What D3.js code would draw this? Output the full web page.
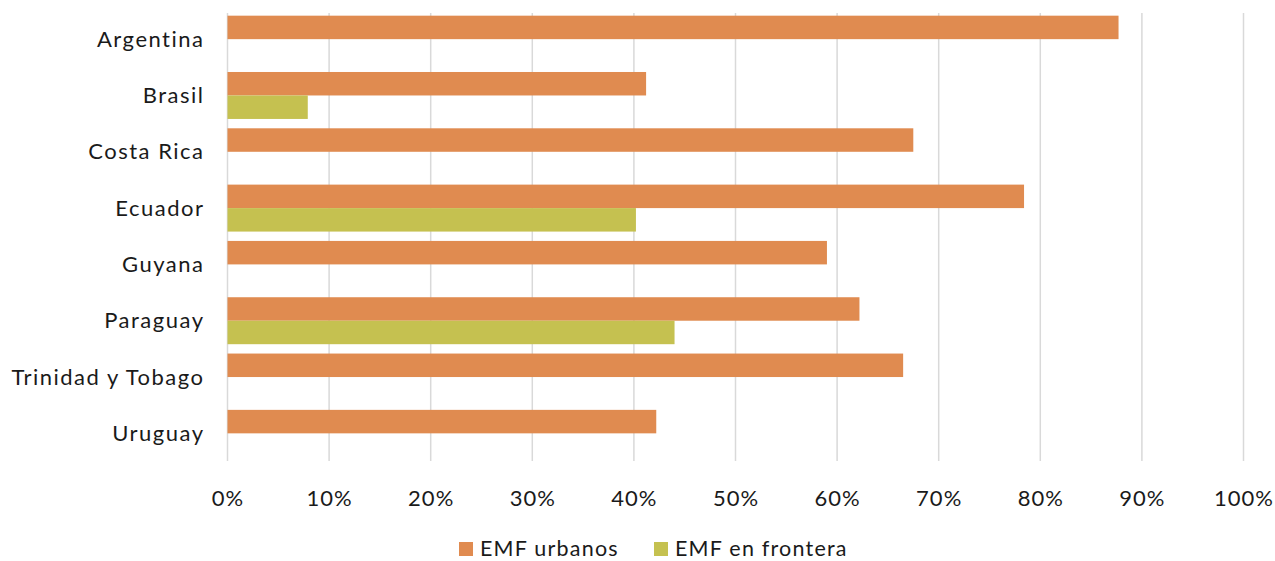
<!DOCTYPE html>
<html>
<head>
<meta charset="utf-8">
<script src="https://cdn.jsdelivr.net/npm/d3@7"></script>
<style>
  html, body { margin: 0; padding: 0; background: #ffffff; }
  svg text { font-family: Lato, "Open Sans", sans-serif; fill: #1a1a1a; }
</style>
</head>
<body>
<svg id="chart" width="1275" height="561"></svg>
<script>
// Countries shown on the vertical axis, top to bottom
const countries = ["Argentina", "Brasil", "Costa Rica", "Ecuador", "Guyana", "Paraguay", "Trinidad y Tobago", "Uruguay"];
// Series names (legend order)
const seriesNames = ["EMF urbanos", "EMF en frontera"];
// Share per country, in percent (null = no bar)
const urbanos   = [87.7, 41.2, 67.5, 78.4, 59.0, 62.2, 66.5, 42.2];
const frontera  = [null, 7.9, null, 40.2, null, 44.0, null, null];
// Horizontal axis ticks
const xTicks = [0, 10, 20, 30, 40, 50, 60, 70, 80, 90, 100];
const colors = ["#E08B50", "#C5C150"];

const svg = d3.select("#chart");

const x = d3.scaleLinear().domain([0, 100]).range([227.5, 1243.5]);
const y = d3.scaleBand().domain(countries).range([11, 461.5]).padding(0);
const step = y.bandwidth();
const pad = step * 0.083;
const ySeries = d3.scaleBand().domain(seriesNames).range([pad, step - pad]).padding(0);

// Vertical gridlines
svg.append("g")
  .selectAll("line")
  .data(xTicks)
  .join("line")
  .attr("x1", d => x(d)).attr("x2", d => x(d))
  .attr("y1", 13).attr("y2", 461)
  .attr("stroke", "#d9d9d9")
  .attr("stroke-width", 1.5);

// Bars
const rows = countries.map((c, i) => ({ country: c, values: [urbanos[i], frontera[i]] }));
const groups = svg.append("g")
  .selectAll("g")
  .data(rows)
  .join("g")
  .attr("transform", d => `translate(0,${y(d.country)})`);

groups.selectAll("rect")
  .data(d => d.values.map((v, k) => ({ series: seriesNames[k], value: v, k }))
    .filter(e => e.value !== null))
  .join("rect")
  .attr("x", x(0))
  .attr("y", d => ySeries(d.series))
  .attr("width", d => x(d.value) - x(0))
  .attr("height", ySeries.bandwidth())
  .attr("fill", d => colors[d.k]);

// Category labels
const labelSpacing = 1.5;
svg.append("g")
  .selectAll("text")
  .data(countries)
  .join("text")
  .attr("x", 203 + labelSpacing)
  .attr("y", d => y(d) + step / 2)
  .attr("dy", "0.35em")
  .attr("text-anchor", "end")
  .attr("font-size", 22)
  .attr("letter-spacing", labelSpacing)
  .text(d => d);

// X axis tick labels
const tickSpacing = 1;
svg.append("g")
  .selectAll("text")
  .data(xTicks)
  .join("text")
  .attr("x", d => x(d) + tickSpacing / 2)
  .attr("y", 498)
  .attr("dy", "0.35em")
  .attr("text-anchor", "middle")
  .attr("font-size", 22)
  .attr("letter-spacing", tickSpacing)
  .text(d => d + "%");

// Legend
const legendX = [459, 654];
const legend = svg.append("g")
  .selectAll("g")
  .data(seriesNames)
  .join("g")
  .attr("transform", (d, i) => `translate(${legendX[i]},542)`);
legend.append("rect")
  .attr("width", 14).attr("height", 14)
  .attr("fill", (d, i) => colors[i]);
legend.append("text")
  .attr("x", 21)
  .attr("y", 14)
  .attr("font-size", 21.5)
  .attr("letter-spacing", 1.2)
  .text(d => d);
</script>
</body>
</html>
